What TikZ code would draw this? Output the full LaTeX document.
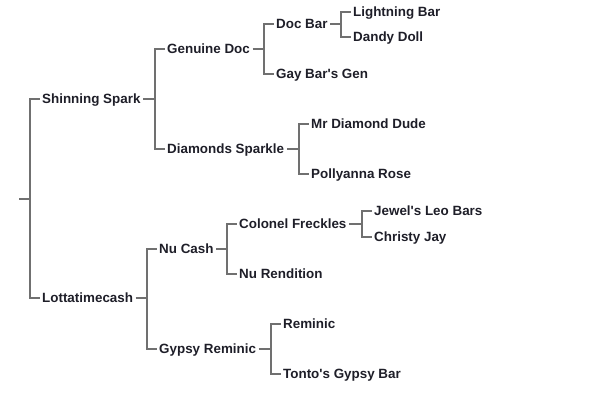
\documentclass[tikz,border=0pt]{standalone}
\usepackage{fontspec}
\setmainfont{Liberation Sans}[Ligatures=TeXOff]
\usetikzlibrary{calc}
\definecolor{txt}{HTML}{1E1E28}
\definecolor{ln}{HTML}{707070}
\tikzset{
  lbl/.style={anchor=west, inner xsep=2.5pt, inner ysep=0pt, text height=9.2pt, text depth=0pt,
    font=\bfseries\fontsize{13.4}{16}\selectfont, text=txt},
  conn/.style={draw=ln, line width=1.4pt}
}
\newcommand{\branch}[3]{%
  \draw[conn] (#2.west) -- ++(-9.5pt,0) |- (#3.west);
  \draw[conn] (#1.east) -- ([xshift=-9.5pt]#2.west |- #1.east);
}
\begin{document}
\begin{tikzpicture}[x=1pt,y=-1pt]
\useasboundingbox (0,0) rectangle (600,400);
\node[lbl] (ss) at (39.5,99) {Shinning Spark};
\node[lbl] (gd) at (164.5,49) {Genuine Doc};
\node[lbl] (db) at (273.5,24) {Doc Bar};
\node[lbl] (lb) at (350.5,12) {Lightning Bar};
\node[lbl] (dd) at (350.5,37) {Dandy Doll};
\node[lbl] (gbg) at (273.5,74) {Gay Bar's Gen};
\node[lbl] (ds) at (164.5,149) {Diamonds Sparkle};
\node[lbl] (mdd) at (308.5,124) {Mr Diamond Dude};
\node[lbl] (pr) at (308.5,174) {Pollyanna Rose};
\node[lbl] (lc) at (39.5,298) {Lottatimecash};
\node[lbl] (nc) at (156.5,249) {Nu Cash};
\node[lbl] (cf) at (236.5,224) {Colonel Freckles};
\node[lbl] (jlb) at (371.5,211) {Jewel's Leo Bars};
\node[lbl] (cj) at (371.5,237) {Christy Jay};
\node[lbl] (nr) at (236.5,274) {Nu Rendition};
\node[lbl] (gr) at (156.5,349) {Gypsy Reminic};
\node[lbl] (rem) at (280.5,324) {Reminic};
\node[lbl] (tgb) at (280.5,374) {Tonto's Gypsy Bar};
\coordinate (root) at (19,199);
\draw[conn] (ss.west) -- ++(-9.5pt,0) |- (lc.west);
\draw[conn] (root) -- ([xshift=-9.5pt]ss.west |- root);
\branch{ss}{gd}{ds}
\branch{gd}{db}{gbg}
\branch{db}{lb}{dd}
\branch{ds}{mdd}{pr}
\branch{lc}{nc}{gr}
\branch{nc}{cf}{nr}
\branch{cf}{jlb}{cj}
\branch{gr}{rem}{tgb}
\end{tikzpicture}
\end{document}
